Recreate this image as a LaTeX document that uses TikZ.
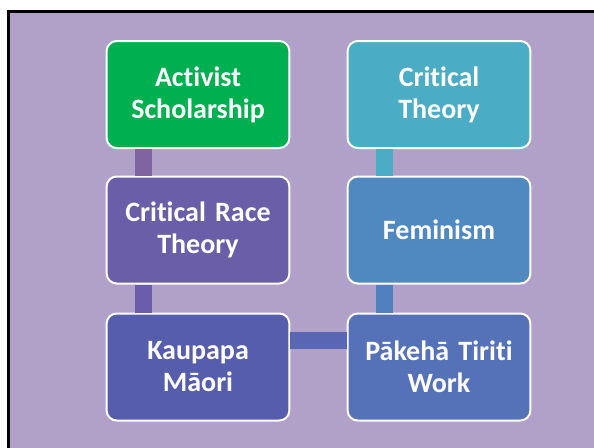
\documentclass[tikz,border=0pt]{standalone}
\usepackage{fontspec}
\setmainfont{Carlito}[Ligatures=NoCommon]
\usepackage{tikz}
\usetikzlibrary{positioning}

\definecolor{slidebg}{HTML}{B1A0C7}
\definecolor{actgreen}{HTML}{00B050}
\definecolor{crtpurple}{HTML}{6B5EA8}
\definecolor{kaublue}{HTML}{575DAD}
\definecolor{pakblue}{HTML}{5572B9}
\definecolor{femblue}{HTML}{4F89BF}
\definecolor{ctteal}{HTML}{4BACC6}

\tikzset{
	topic/.style={draw=white, line width=2pt, rounded corners=10pt,
		minimum width=180pt, minimum height=107pt, text width=176pt,
		align=center, text=white,
		font=\fontsize{28}{32}\selectfont\bfseries},
	link/.style={line width=17pt}
}

\begin{document}
\begin{tikzpicture}[x=1pt,y=-1pt]
	\useasboundingbox (0,0) rectangle (594,447);
	\clip (0,0) rectangle (594,447);
	\fill[slidebg] (8.5,11.5) rectangle (600,460);
	\draw[line width=3pt] (8.5,460) -- (8.5,11.5) -- (600,11.5);

	\node[topic,fill=actgreen] (act) at (198,94.5) {Activist\\Scholarship};
	\node[topic,fill=crtpurple] (crt) at (198,230) {Critical Race\\Theory};
	\node[topic,fill=kaublue] (kau) at (198,367) {Kaupapa\\Māori};
	\node[topic,fill=pakblue] (pak) at (439,367) {Pākehā Tiriti\\Work};
	\node[topic,fill=femblue] (fem) at (439,230) {Feminism};
	\node[topic,fill=ctteal] (ct) at (439,94.5) {Critical\\Theory};

	\draw[link,color={rgb,255:red,128;green,100;blue,162}] ([xshift=37.5pt]act.south west) -- ([xshift=37.5pt]crt.north west);
	\draw[link,color={rgb,255:red,106;green,94;blue,170}] ([xshift=37.5pt]crt.south west) -- ([xshift=37.5pt]kau.north west);
	\draw[link,color={rgb,255:red,88;green,102;blue,179}] ([yshift=-27.5pt]kau.north east) -- ([yshift=-27.5pt]pak.north west);
	\draw[link,color={rgb,255:red,80;green,128;blue,190}] ([xshift=37.5pt]pak.north west) -- ([xshift=37.5pt]fem.south west);
	\draw[link,color=ctteal] ([xshift=37.5pt]fem.north west) -- ([xshift=37.5pt]ct.south west);
\end{tikzpicture}
\end{document}
